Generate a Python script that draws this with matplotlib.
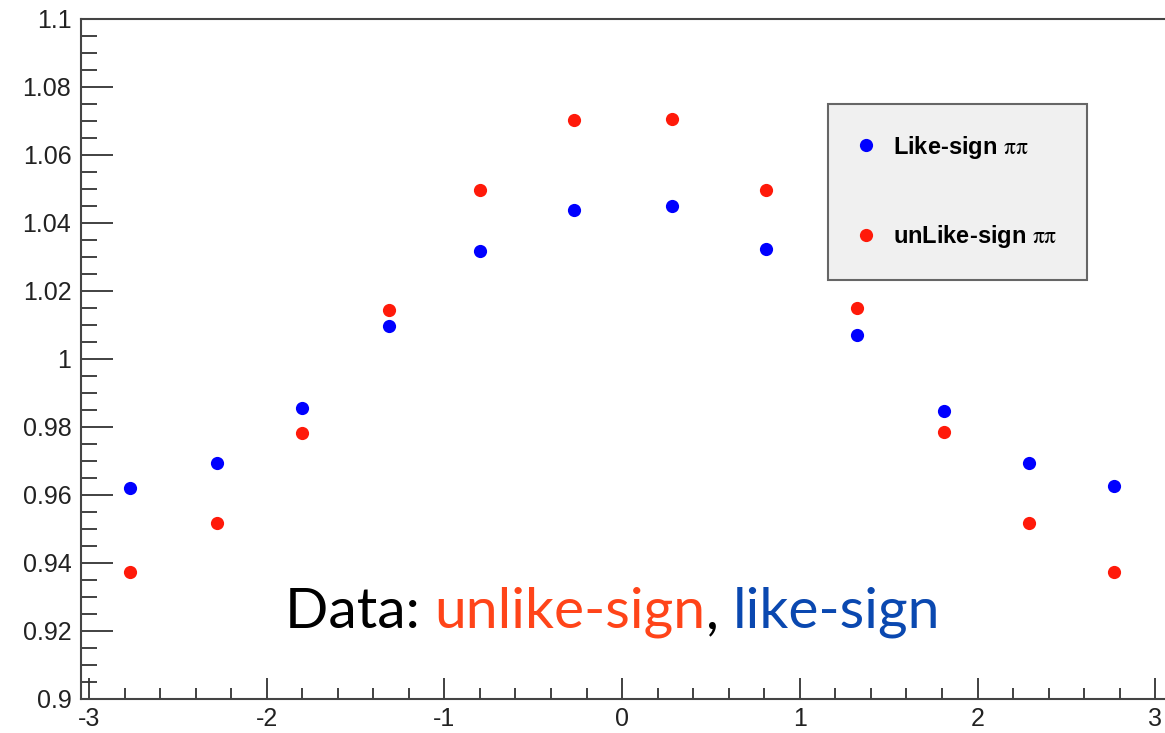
import numpy as np
import matplotlib
matplotlib.use('Agg')
import matplotlib.pyplot as plt
from matplotlib.ticker import MultipleLocator

# ============= Data =============
x_bins = [-2.77, -2.28, -1.80, -1.31, -0.80, -0.27, 0.28, 0.81, 1.32, 1.81, 2.29, 2.77]
like_sign = [0.9622, 0.9695, 0.9857, 1.0096, 1.0317, 1.0437, 1.0449, 1.0323, 1.0072, 0.9848, 0.9695, 0.9627]
unlike_sign = [0.9374, 0.9518, 0.9783, 1.0143, 1.0496, 1.0703, 1.0706, 1.0496, 1.0149, 0.9786, 0.9518, 0.9374]

labels = ['Like-sign $\\mathrm{\\pi\\pi}$', 'unLike-sign $\\mathrm{\\pi\\pi}$']
ytick_labels = ['0.9', '0.92', '0.94', '0.96', '0.98', '1', '1.02', '1.04', '1.06', '1.08', '1.1']
note_parts = [('Data: ', 'black'), ('unlike-sign', '#ff4419'), (', ', 'black'), ('like-sign', '#0a48b0')]

# ============= Plot =============
plt.rcParams['font.family'] = ['Liberation Sans', 'DejaVu Sans']
plt.rcParams['mathtext.fontset'] = 'stix'
plt.rcParams['axes.unicode_minus'] = False

fig = plt.figure(figsize=(11.65, 7.33), dpi=100)
ax = fig.add_axes([81 / 1165, 1 - 699 / 733, (1165 - 81) / 1165, (699 - 19) / 733])

ax.plot(x_bins, like_sign, 'o', color='#0000ff', ms=9.5, mec='none', label=labels[0])
ax.plot(x_bins, unlike_sign, 'o', color='#ff1a0a', ms=9.5, mec='none', label=labels[1])

ax.set_xlim(-3.045, 3.055)
ax.set_ylim(0.9, 1.1)

ax.xaxis.set_major_locator(MultipleLocator(1))
ax.xaxis.set_minor_locator(MultipleLocator(0.2))
ax.yaxis.set_minor_locator(MultipleLocator(0.005))
ax.set_yticks(np.arange(0.9, 1.1001, 0.02))
ax.set_yticklabels(ytick_labels)

ax.tick_params(axis='both', which='both', direction='in', color='#333333', width=1.3, labelcolor='#222222')
ax.tick_params(axis='y', which='major', length=23, labelsize=18, pad=7)
ax.tick_params(axis='y', which='minor', length=11.5)
ax.tick_params(axis='x', which='major', length=15, labelsize=18, pad=6)
ax.tick_params(axis='x', which='minor', length=8)
ax.spines['right'].set_visible(False)
for s in ['left', 'top', 'bottom']:
    ax.spines[s].set_linewidth(1.5)
    ax.spines[s].set_color('#444444')

leg = ax.legend(loc='upper left', bbox_to_anchor=(747 / 1084, 1 - 85 / 680), frameon=True, fancybox=False,
                prop={'weight': 'bold', 'size': 17}, handletextpad=0.8, labelspacing=2.65,
                borderpad=1.25, handlelength=0.7, borderaxespad=0)
frame = leg.get_frame()
frame.set_facecolor('#f0f0f0')
frame.set_edgecolor('#666666')
frame.set_linewidth(1.5)
frame.set_alpha(1)

# annotation placed piece by piece
fig.canvas.draw()
renderer = fig.canvas.get_renderer()
xpos = 285 / 1165
for txt, col in note_parts:
    t = fig.text(xpos, 1 - 628 / 733, txt, color=col, fontsize=41, family=['Lato', 'DejaVu Sans'],
                 ha='left', va='baseline')
    bb = t.get_window_extent(renderer)
    xpos = bb.x1 / fig.bbox.width

plt.savefig('out.png', dpi=100)
